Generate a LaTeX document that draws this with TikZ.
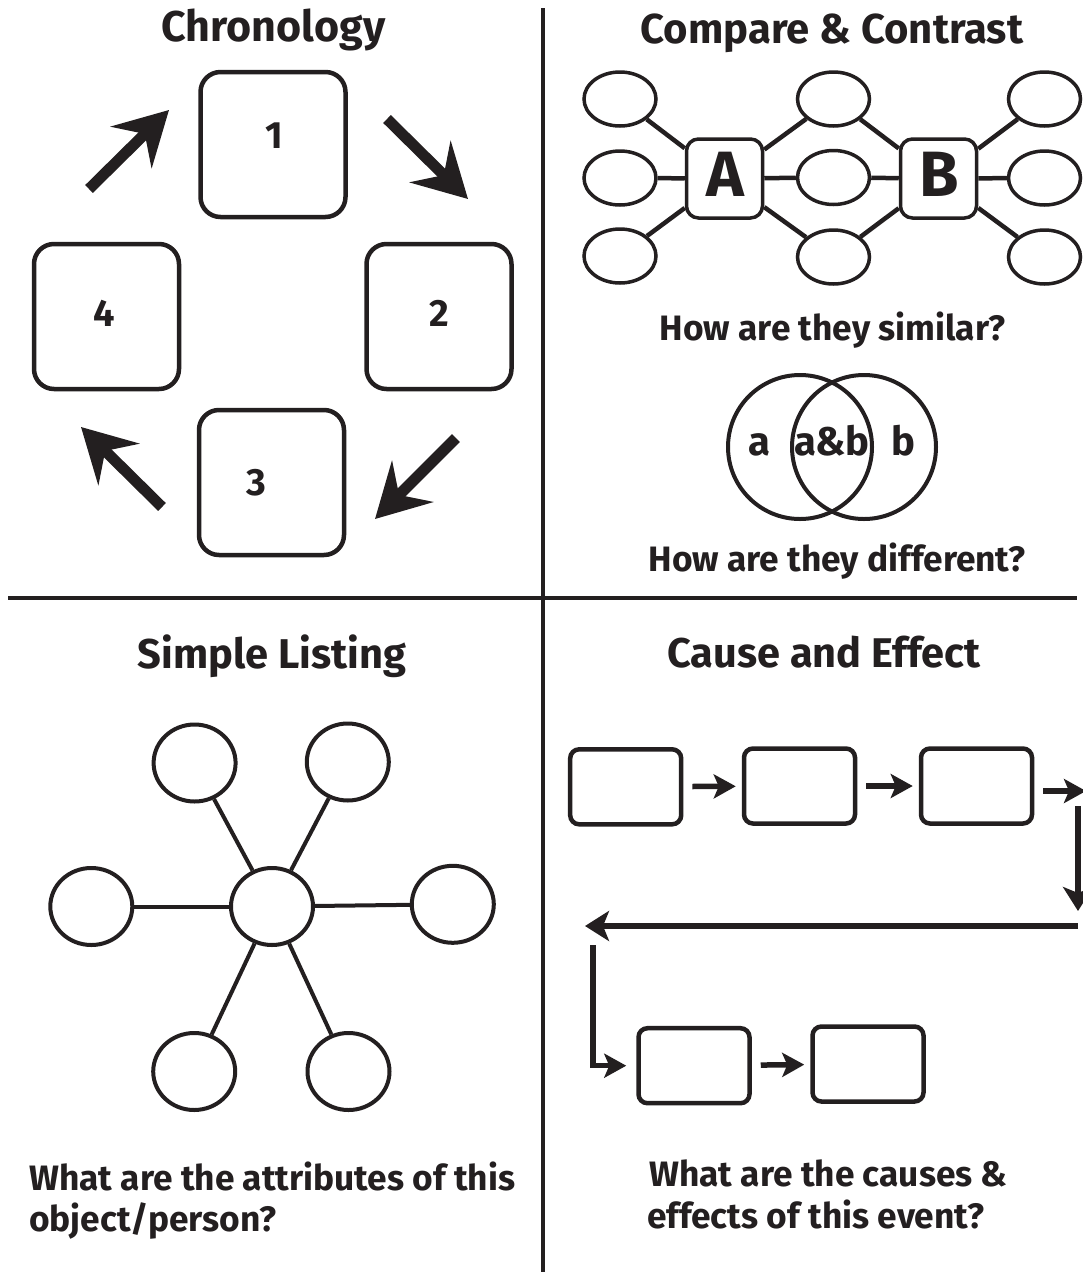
\documentclass[tikz,border=0pt]{standalone}
\usepackage{fontspec}
\setmainfont{Fira Sans}
\usetikzlibrary{arrows.meta,shapes.geometric}
\definecolor{ink}{HTML}{231F20}
\begin{document}
\begin{tikzpicture}[x=1pt,y=-1pt,
  txt/.style={font=\bfseries, inner sep=0pt, text=ink, anchor=base},
  ttl/.style={txt, font=\bfseries\fontsize{#1}{#1}\selectfont},
  qst/.style={txt, font=\bfseries\fontsize{35.3}{35.3}\selectfont},
  btm/.style={txt, anchor=base west, font=\bfseries\fontsize{35.3}{35.3}\selectfont},
  digit/.style={txt, font=\bfseries\fontsize{38}{38}\selectfont},
  divider/.style={draw=ink, line width=4pt},
  chbox/.style={draw=ink, line width=4.5pt, rounded corners=20pt, minimum width=145pt, minimum height=145pt, inner sep=0pt},
  bigarr/.style={draw=ink, line width=11pt, -{Stealth[length=53pt,width=58pt,inset=19pt]}},
  ovalc/.style={ellipse, draw=ink, line width=3.5pt, minimum width=72pt, minimum height=54pt, inner sep=0pt},
  abbox/.style={draw=ink, line width=3.5pt, rounded corners=12pt, minimum width=76pt, minimum height=79pt, inner sep=0pt},
  cline/.style={draw=ink, line width=4.5pt},
  venn/.style={circle, draw=ink, line width=4pt, minimum size=144pt, inner sep=0pt},
  oval/.style={ellipse, draw=ink, line width=4pt, minimum width=82pt, minimum height=77pt, inner sep=0pt},
  sline/.style={draw=ink, line width=4pt},
  cebox/.style={draw=ink, line width=4.5pt, rounded corners=9pt, minimum width=111pt, minimum height=75pt, inner sep=0pt},
  sarr/.style={draw=ink, line width=5.5pt, -{Stealth[length=22pt,width=24pt,inset=5pt]}},
  barr/.style={draw=ink, line width=6.5pt, -{Stealth[length=24pt,width=30pt,inset=6pt]}}
]
\useasboundingbox (0,0) rectangle (1083,1272);
% dividers
\coordinate (vt) at (543,8); \coordinate (vb) at (543,1272);
\coordinate (hl) at (8,598); \coordinate (hr) at (1077,598);
\draw[divider] (vt) -- (vb);
\draw[divider] (hl) -- (hr);

% ---------- Chronology ----------
\node[ttl=43] (tchron) at (273.5,41.3) {Chronology};
\node[chbox] (b1) at (273,144.5) {};
\node[chbox] (b2) at (439,316.5) {};
\node[chbox] (b4) at (106.5,316.5) {};
\node[chbox] (b3) at (271.5,482.5) {};
\node[digit] (d1) at (274,148.5) {1};
\node[digit] (d2) at (439,326) {2};
\node[digit] (d4) at (104,326) {4};
\node[digit] (d3) at (256,495.5) {3};
\coordinate (a41s) at (89,189);  \coordinate (a41e) at (169,110);
\coordinate (a12s) at (387,119); \coordinate (a12e) at (468,199);
\coordinate (a23s) at (456,438); \coordinate (a23e) at (375,519);
\coordinate (a34s) at (162,507); \coordinate (a34e) at (81,427);
\draw[bigarr] (a41s) -- (a41e);
\draw[bigarr] (a12s) -- (a12e);
\draw[bigarr] (a23s) -- (a23e);
\draw[bigarr] (a34s) -- (a34e);

% ---------- Compare & Contrast ----------
\node[ttl=41.8] (tcomp) at (832,43) {Compare \& Contrast};
\node[ovalc] (l1) at (620,99) {};
\node[ovalc] (l2) at (620,178) {};
\node[ovalc] (l3) at (620,256) {};
\node[ovalc] (m1) at (833.5,99) {};
\node[ovalc] (m2) at (833.5,177.5) {};
\node[ovalc] (m3) at (833.5,257) {};
\node[ovalc] (r1) at (1044.5,99) {};
\node[ovalc] (r2) at (1044.5,178) {};
\node[ovalc] (r3) at (1044.5,257) {};
\node[abbox] (A) at (724.5,178.5) {};
\node[abbox] (B) at (938.5,178.5) {};
\node[txt, font=\bfseries\fontsize{64}{64}\selectfont] (lA) at (725,196) {A};
\node[txt, font=\bfseries\fontsize{64}{64}\selectfont] (lB) at (939,196) {B};
\foreach \t in {l1,l2,l3,m1,m2,m3} \draw[cline] (A) -- (\t);
\foreach \t in {m1,m2,m3,r1,r2,r3} \draw[cline] (B) -- (\t);

\node[qst] (qsim) at (832.5,340.7) {How are they similar?};
\node[venn] (va) at (800,447) {};
\node[venn] (vb2) at (864,447) {};
\node[txt, font=\bfseries\fontsize{40}{40}\selectfont] (la) at (759,455) {a};
\node[txt, font=\bfseries\fontsize{40}{40}\selectfont] (lab) at (832,455) {a\&b};
\node[txt, font=\bfseries\fontsize{40}{40}\selectfont] (lb) at (903.6,455) {b};
\node[qst] (qdif) at (837,571.7) {How are they different?};

% ---------- Simple Listing ----------
\node[ttl=41.6] (tlist) at (272,668.6) {Simple Listing};
\node[oval] (hub) at (272,906.5) {};
\node[oval] (s1) at (194.6,763) {};
\node[oval] (s2) at (347.8,762) {};
\node[oval] (s3) at (91.3,906.5) {};
\node[oval] (s4) at (452.8,904.3) {};
\node[oval] (s5) at (194.2,1071.5) {};
\node[oval] (s6) at (348.5,1071.5) {};
\foreach \t in {s1,s2,s3,s4,s5,s6} \draw[sline] (hub) -- (\t);
\node[btm] (bl1) at (29,1190.6) {What are the attributes of this};
\node[btm] (bl2) at (29,1231) {object/person?};

% ---------- Cause and Effect ----------
\node[ttl=41.5] (tcause) at (824,667.7) {Cause and Effect};
\node[cebox] (e1) at (625.7,786.8) {};
\node[cebox] (e2) at (799.5,786) {};
\node[cebox] (e3) at (976.5,786) {};
\node[cebox] (e4) at (694,1065.7) {};
\node[cebox] (e5) at (868,1064) {};
\draw[sarr, shorten <=9pt, shorten >=6pt] (e1) -- (e2);
\draw[sarr, shorten <=9pt, shorten >=6pt] (e2) -- (e3);
\draw[sarr, shorten <=9pt, shorten >=6pt] (e4) -- (e5);
\coordinate (x1) at (1086,791);
\draw[sarr, shorten <=9pt] (e3.east |- x1) -- (x1);
\coordinate (v1) at (1078,806); \coordinate (v2) at (1078,911);
\draw[barr] (v1) -- (v2);
\coordinate (h1) at (1078,926); \coordinate (h2) at (585,926);
\draw[barr] (h1) -- (h2);
\coordinate (k1) at (593,945);
\draw[sarr, shorten >=10pt] (k1) |- (e4.west);
\node[btm] (bc1) at (649,1186) {What are the causes \&};
\node[btm] (bc2) at (647,1228) {effects of this event?};
\end{tikzpicture}
\end{document}
